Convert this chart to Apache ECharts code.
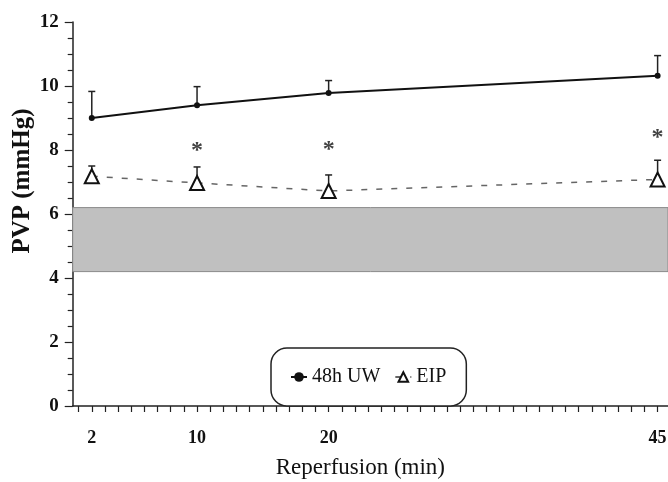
<!DOCTYPE html>
<html><head><meta charset="utf-8">
<script src="https://cdn.jsdelivr.net/npm/echarts@6/dist/echarts.min.js"></script>
<style>html,body{margin:0;padding:0;background:#fff}#c{width:668px;height:482px}</style>
</head><body><div id="c"></div>
<script>
// ---- data ----
const times = [2, 10, 20, 45];
const uwMean = [9.0, 9.4, 9.78, 10.32];
const uwUpper = [9.83, 9.98, 10.17, 10.95];
const eipMean = [7.18, 6.97, 6.72, 7.08];
const eipUpper = [7.5, 7.47, 7.22, 7.68];
const starTimes = [10, 20, 45];
const starY = [8.15, 8.2, 8.57];
const normalRange = [4.2, 6.2];
const xTickValues = [1,2,3,4,5,6,7,8,9,10,11,12,13,14,15,16,17,18,19,20,21,22,23,24,25,26,27,28,29,30,31,32,33,34,35,36,37,38,39,40,41,42,43,44,45];
const xLabelValues = [2, 10, 20, 45];
const yLabelValues = [0, 2, 4, 6, 8, 10, 12];

const serif = 'Liberation Serif';

function errRender(offsetPx) {
  return function (params, api) {
    const x = api.value(0), y = api.value(1), t = api.value(2);
    const p0 = api.coord([x, y]);
    const p1 = api.coord([x, t]);
    return {
      type: 'group',
      children: [
        { type: 'line', shape: { x1: p0[0], y1: p0[1] - offsetPx, x2: p1[0], y2: p1[1] }, style: { stroke: '#222', lineWidth: 1.5 } },
        { type: 'line', shape: { x1: p1[0] - 3.5, y1: p1[1], x2: p1[0] + 3.5, y2: p1[1] }, style: { stroke: '#222', lineWidth: 1.5 } }
      ]
    };
  };
}

const chart = echarts.init(document.getElementById('c'), null, { renderer: 'canvas' });
chart.setOption({
  animation: false,
  backgroundColor: '#fff',
  grid: { left: 72.7, right: 0, top: 22, bottom: 76, containLabel: false, outerBoundsMode: 'none' },
  legend: {
    data: ['48h UW', 'EIP'],
    left: 271, top: 348,
    padding: [19, 20, 19, 19],
    itemGap: 14, itemWidth: 16, itemHeight: 12,
    borderColor: '#222', borderWidth: 1.5, borderRadius: 16,
    backgroundColor: '#fff',
    textStyle: { fontFamily: serif, fontSize: 20, color: '#111' }
  },
  xAxis: {
    type: 'value', min: 0.55, max: 45.79,
    axisLine: { lineStyle: { color: '#222', width: 1.5 } },
    axisTick: { show: true, length: 6, customValues: xTickValues, lineStyle: { color: '#222', width: 1.2 } },
    axisLabel: { customValues: xLabelValues, margin: 23, fontFamily: serif, fontSize: 18, fontWeight: 'bold', color: '#111' },
    splitLine: { show: false },
    name: 'Reperfusion (min)', nameLocation: 'middle', nameGap: 50, nameMoveOverlap: false,
    nameTextStyle: { fontFamily: serif, fontSize: 23, color: '#111', padding: [0, 20, 0, 0] }
  },
  yAxis: {
    type: 'value', min: 0, max: 12, interval: 2,
    axisLine: { show: true, lineStyle: { color: '#222', width: 1.5 } },
    axisTick: { show: true, length: 8, lineStyle: { color: '#222', width: 1.2 } },
    minorTick: { show: true, splitNumber: 4, length: 5, lineStyle: { color: '#222', width: 1.2 } },
    axisLabel: { customValues: yLabelValues, margin: 14, fontFamily: serif, fontSize: 19, fontWeight: 'bold', color: '#111' },
    splitLine: { show: false },
    name: 'PVP (mmHg)', nameLocation: 'middle', nameGap: 38, nameRotate: 90, nameMoveOverlap: false,
    nameTextStyle: { fontFamily: serif, fontSize: 25, fontWeight: 'bold', color: '#111', padding: [0, 0, 0, 66] }
  },
  series: [
    {
      name: 'band', type: 'line', data: [], silent: true,
      markArea: {
        silent: true,
        itemStyle: { color: '#c0c0c0', borderColor: '#8a8a8a', borderWidth: 1 },
        data: [[{ yAxis: normalRange[0] }, { yAxis: normalRange[1] }]]
      }
    },
    {
      name: 'uwErr', type: 'custom', renderItem: errRender(0), z: 2,
      data: times.map((t, i) => [t, uwMean[i], uwUpper[i]])
    },
    {
      name: 'eipErr', type: 'custom', renderItem: errRender(7), z: 2,
      data: times.map((t, i) => [t, eipMean[i], eipUpper[i]])
    },
    {
      name: '48h UW', type: 'line', z: 4,
      data: times.map((t, i) => [t, uwMean[i]]),
      symbol: 'circle', symbolSize: 6,
      itemStyle: { color: '#111' },
      lineStyle: { color: '#111', width: 2 }
    },
    {
      name: 'EIP', type: 'line', z: 4,
      data: times.map((t, i) => [t, eipMean[i]]),
      symbol: 'triangle', symbolSize: 14,
      itemStyle: { color: '#fff', borderColor: '#111', borderWidth: 2 },
      lineStyle: { color: '#666', width: 1.5, type: [6, 9] }
    },
    {
      name: 'stars', type: 'scatter', symbolSize: 1, z: 5,
      itemStyle: { color: 'transparent' },
      data: starTimes.map((t, i) => [t, starY[i]]),
      label: { show: true, formatter: '*', position: 'inside', offset: [0, 6], fontFamily: serif, fontSize: 24, fontWeight: 'bold', color: '#111' }
    }
  ]
});
</script>
</body></html>
